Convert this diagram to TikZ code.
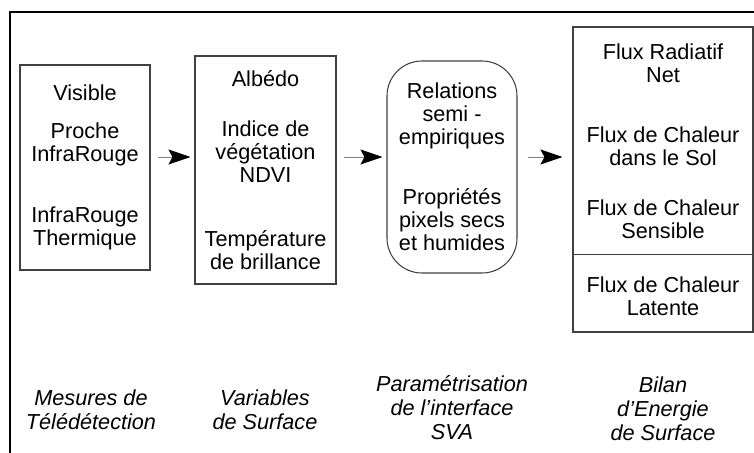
\documentclass[tikz,border=0pt]{standalone}
\usepackage{fontspec}
\setmainfont{Liberation Sans}
\usetikzlibrary{arrows.meta,positioning}
\definecolor{boxgray}{RGB}{64,64,64}
\definecolor{shaftgray}{RGB}{128,128,128}

\begin{document}
\begin{tikzpicture}[x=0.03cm, y=-0.03cm,
  stage/.style={draw=boxgray, line width=0.9pt, inner sep=0pt, align=center,
    font=\fontsize{18.5pt}{19.6pt}\selectfont},
  lab/.style={align=center, font=\fontsize{18.5pt}{20.5pt}\selectfont\itshape},
  arr/.style={shaftgray, line width=0.8pt, shorten <=0.21cm, shorten >=0.12cm,
    -{Stealth[length=0.66cm, width=0.45cm, inset=0.12cm, color=black]}}]
\useasboundingbox (0,0) rectangle (754,453);
% Frame
\draw[line width=1.2pt] (10,453) -- (10,12) -- (754,12);
% Row of stages
\node[stage, minimum width=3.9cm, minimum height=6.15cm]
  (mes) at (85,167.5) {Visible\\[12.8pt]Proche\\InfraRouge\\[33pt]InfraRouge\\Thermique};
\node[stage, minimum width=4.23cm, minimum height=6.84cm]
  (var) at (265.5,170) {Albédo\\[23pt]Indice de\\végétation\\NDVI\\[35pt]Température\\de brillance};
\node[stage, rounded corners=1.05cm, minimum width=3.9cm, minimum height=6.36cm]
  (par) at (452,167) {Relations\\semi -\\empiriques\\[32pt]Propriétés\\pixels secs\\et humides};
\node[stage, minimum width=5.4cm, minimum height=9.15cm]
  (bil) at (663,179.5) {Flux Radiatif\\Net\\[32pt]Flux de Chaleur\\dans le Sol\\[23pt]Flux de Chaleur\\Sensible\\[26.5pt]Flux de Chaleur\\Latente};
\draw[boxgray, line width=0.9pt]
  ([yshift=2.34cm]bil.south west) -- ([yshift=2.34cm]bil.south east);
% Arrows
\coordinate (lvl) at (0,157);
\draw[arr] (mes.east |- lvl) -- (var.west |- lvl);
\draw[arr] (var.east |- lvl) -- (par.west |- lvl);
\draw[arr, shorten <=0.3cm, shorten >=0.3cm] (par.east |- lvl) -- (bil.west |- lvl);
% Captions
\node[lab] (lmes) at (91,410) {Mesures de\\Télédétection};
\node[lab] (lvar) at (265,410) {Variables\\de Surface};
\node[lab] (lpar) at (452,408) {Paramétrisation\\de l’interface\\SVA};
\node[lab] (lbil) at (663,409) {Bilan\\d’Energie\\de Surface};
\end{tikzpicture}
\end{document}
